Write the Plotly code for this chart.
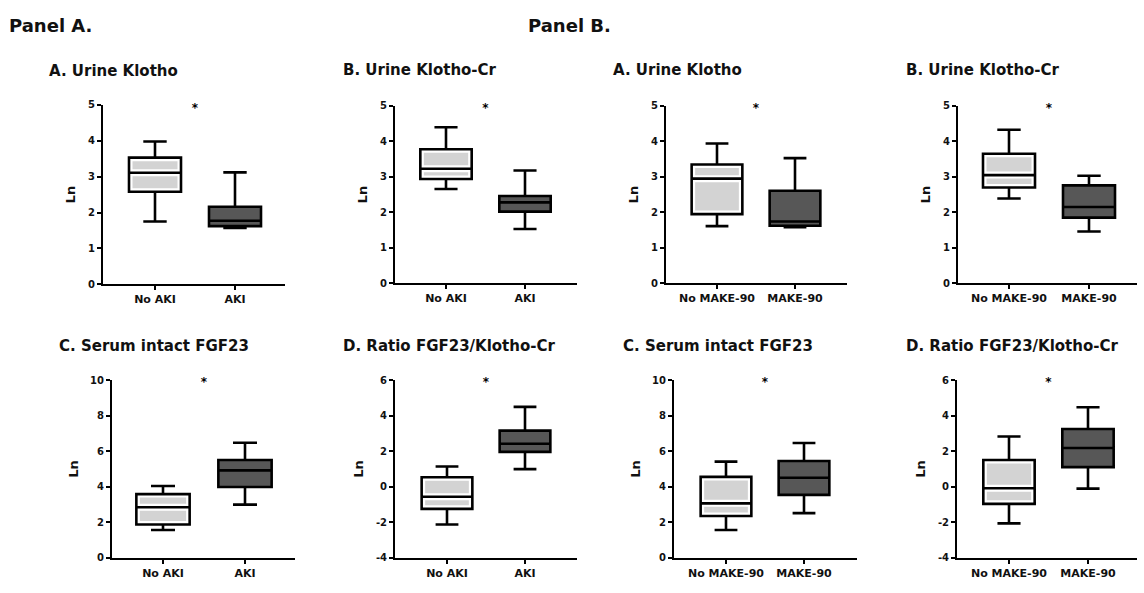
import plotly.graph_objects as go

# ---------------- data (five-number summaries: lower whisker, Q1, median, Q3, upper whisker)
groups_aki = ["No AKI", "AKI"]
groups_make = ["No MAKE-90", "MAKE-90"]

uk_aki_no = [1.75, 2.58, 3.11, 3.53, 3.98]
uk_aki_yes = [1.57, 1.62, 1.77, 2.16, 3.12]
ukcr_aki_no = [2.66, 2.94, 3.23, 3.78, 4.40]
ukcr_aki_yes = [1.53, 2.02, 2.28, 2.46, 3.18]
fgf_aki_no = [1.56, 1.87, 2.84, 3.58, 4.04]
fgf_aki_yes = [2.99, 3.98, 4.92, 5.50, 6.48]
ratio_aki_no = [-2.13, -1.25, -0.57, 0.53, 1.14]
ratio_aki_yes = [0.99, 1.96, 2.42, 3.16, 4.50]

uk_make_no = [1.61, 1.95, 2.95, 3.35, 3.94]
uk_make_yes = [1.58, 1.62, 1.74, 2.61, 3.53]
ukcr_make_no = [2.39, 2.70, 3.05, 3.65, 4.33]
ukcr_make_yes = [1.46, 1.85, 2.15, 2.76, 3.03]
fgf_make_no = [1.56, 2.35, 3.06, 4.55, 5.41]
fgf_make_yes = [2.51, 3.54, 4.50, 5.45, 6.46]
ratio_make_no = [-2.07, -0.97, -0.09, 1.50, 2.83]
ratio_make_yes = [-0.11, 1.10, 2.18, 3.25, 4.48]

ticks_klotho = [0, 1, 2, 3, 4, 5]
ticks_fgf = [0, 2, 4, 6, 8, 10]
ticks_ratio = [-4, -2, 0, 2, 4, 6]
ticklabels_klotho = ["0", "1", "2", "3", "4", "5"]
ticklabels_fgf = ["0", "2", "4", "6", "8", "10"]
ticklabels_ratio = ["-4", "-2", "0", "2", "4", "6"]

titles = ["A. Urine Klotho", "B. Urine Klotho-Cr", "C. Serum intact FGF23", "D. Ratio FGF23/Klotho-Cr"]
star_y = [4.9, 4.9, 9.85, 5.85]

# ---------------- layout helpers
W, H = 1144, 593
FONT = "DejaVu Sans, Verdana, sans-serif"
LIGHT = "#d3d3d3"
DARK = "#575757"

panels = [
    dict(g=groups_aki, no=uk_aki_no, yes=uk_aki_yes, tv=ticks_klotho, tt=ticklabels_klotho, title=titles[0], star=star_y[0],
         box=(103, 285, 101, 284), cats=(155, 235), tx=47, ty=66),
    dict(g=groups_aki, no=ukcr_aki_no, yes=ukcr_aki_yes, tv=ticks_klotho, tt=ticklabels_klotho, title=titles[1], star=star_y[1],
         box=(395, 577, 102, 283), cats=(446, 525), tx=341, ty=65),
    dict(g=groups_make, no=uk_make_no, yes=uk_make_yes, tv=ticks_klotho, tt=ticklabels_klotho, title=titles[0], star=star_y[0],
         box=(666, 847, 102, 283), cats=(717, 795), tx=611, ty=65),
    dict(g=groups_make, no=ukcr_make_no, yes=ukcr_make_yes, tv=ticks_klotho, tt=ticklabels_klotho, title=titles[1], star=star_y[1],
         box=(958, 1137, 102, 283), cats=(1009, 1089), tx=904, ty=65),
    dict(g=groups_aki, no=fgf_aki_no, yes=fgf_aki_yes, tv=ticks_fgf, tt=ticklabels_fgf, title=titles[2], star=star_y[2],
         box=(112, 295, 382, 563), cats=(163, 245), tx=57, ty=347),
    dict(g=groups_aki, no=ratio_aki_no, yes=ratio_aki_yes, tv=ticks_ratio, tt=ticklabels_ratio, title=titles[3], star=star_y[3],
         box=(395, 577, 382, 563), cats=(447, 525), tx=341, ty=347),
    dict(g=groups_make, no=fgf_make_no, yes=fgf_make_yes, tv=ticks_fgf, tt=ticklabels_fgf, title=titles[2], star=star_y[2],
         box=(674, 857, 382, 563), cats=(726, 804), tx=621, ty=347),
    dict(g=groups_make, no=ratio_make_no, yes=ratio_make_yes, tv=ticks_ratio, tt=ticklabels_ratio, title=titles[3], star=star_y[3],
         box=(957, 1137, 382, 563), cats=(1009, 1088), tx=904, ty=347),
]

fig = go.Figure()
annotations = []
layout_axes = {}


def add_box(j, stats, fill, halo, xa, ya):
    common = dict(x=[j], width=0.65, boxpoints=False, xaxis=xa, yaxis=ya, showlegend=False, hoverinfo="skip")
    if halo:
        # white inner band around the box edge and median (box body only)
        fig.add_trace(go.Box(
            lowerfence=[stats[1]], q1=[stats[1]], median=[stats[2]], q3=[stats[3]], upperfence=[stats[3]],
            whiskerwidth=0, fillcolor=fill, line=dict(color="white", width=7), **common))
        fill = "rgba(0,0,0,0)"
    # crisp black outline, median and whiskers
    fig.add_trace(go.Box(
        lowerfence=[stats[0]], q1=[stats[1]], median=[stats[2]], q3=[stats[3]], upperfence=[stats[4]],
        whiskerwidth=0.45, fillcolor=fill, line=dict(color="black", width=2.6), **common))


for i, p in enumerate(panels):
    n = i + 1
    xa = "x" if n == 1 else f"x{n}"
    ya = "y" if n == 1 else f"y{n}"
    x0, x1, y0, y1 = p["box"]
    c0, c1 = p["cats"]
    sp = c1 - c0
    xr = [-(c0 - x0) / sp, 1 + (x1 - c1) / sp]

    add_box(0, p["no"], LIGHT, True, xa, ya)
    add_box(1, p["yes"], DARK, False, xa, ya)

    fig.add_trace(go.Scatter(
        x=[0.5], y=[p["star"]], mode="text", text=["*"], cliponaxis=False,
        textfont=dict(family=FONT, size=12, color="black", weight="bold"),
        xaxis=xa, yaxis=ya, showlegend=False, hoverinfo="skip",
    ))

    kx = "xaxis" if n == 1 else f"xaxis{n}"
    ky = "yaxis" if n == 1 else f"yaxis{n}"
    layout_axes[kx] = dict(
        domain=[x0 / W, x1 / W], range=xr, anchor=ya,
        tickvals=[0, 1], ticktext=p["g"],
        showline=True, linecolor="black", linewidth=2,
        ticks="outside", ticklen=4, tickwidth=2, tickcolor="black",
        showgrid=False, zeroline=False, fixedrange=True,
        tickfont=dict(family=FONT, size=11, color="#111", weight="bold"),
    )
    layout_axes[ky] = dict(
        domain=[1 - y1 / H, 1 - y0 / H], range=[p["tv"][0], p["tv"][-1]], anchor=xa,
        tickvals=p["tv"], ticktext=p["tt"],
        showline=True, linecolor="black", linewidth=2,
        ticks="outside", ticklen=4, tickwidth=2, tickcolor="black",
        showgrid=False, zeroline=False, fixedrange=True,
        tickfont=dict(family=FONT, size=10, color="#111", weight="bold"),
        title=dict(text="Ln", font=dict(family=FONT, size=13, color="#111", weight="bold"), standoff=9),
    )
    annotations.append(dict(
        text=p["title"], x=p["tx"] / W, y=1 - p["ty"] / H, xref="paper", yref="paper",
        xanchor="left", yanchor="middle", showarrow=False,
        font=dict(family=FONT, size=15, color="#111", weight="bold"),
    ))

annotations.append(dict(text="Panel A.", x=7 / W, y=1 - 20 / H, xref="paper", yref="paper",
                        xanchor="left", yanchor="middle", showarrow=False,
                        font=dict(family=FONT, size=18, color="#111", weight="bold")))
annotations.append(dict(text="Panel B.", x=526 / W, y=1 - 20 / H, xref="paper", yref="paper",
                        xanchor="left", yanchor="middle", showarrow=False,
                        font=dict(family=FONT, size=18, color="#111", weight="bold")))

fig.update_layout(
    width=W, height=H, margin=dict(l=0, r=0, t=0, b=0),
    paper_bgcolor="white", plot_bgcolor="white",
    annotations=annotations, **layout_axes,
)

fig.write_html("out.html", config={"displayModeBar": False},
               post_script="document.body.style.margin='0';")
